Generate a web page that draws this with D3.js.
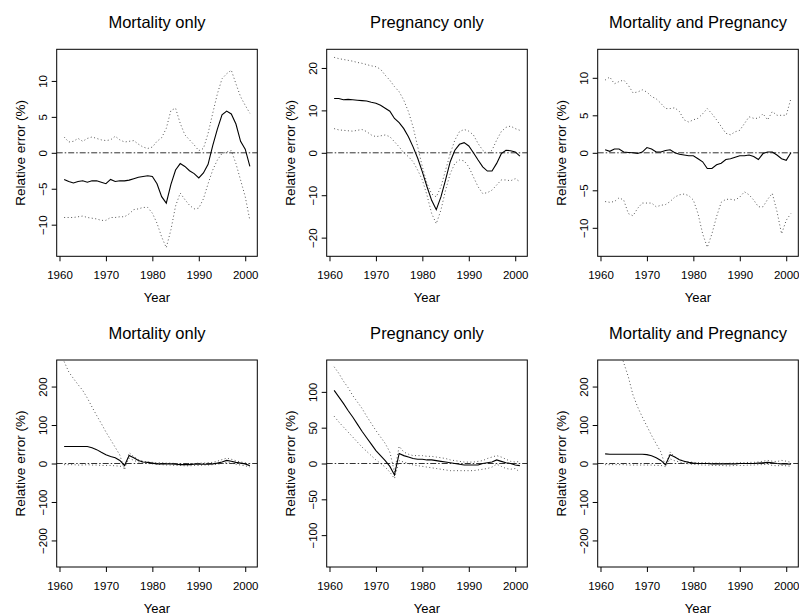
<!DOCTYPE html>
<html>
<head>
<meta charset="utf-8">
<script src="https://cdn.jsdelivr.net/npm/d3@7/dist/d3.min.js"></script>
<style>
  body { margin: 0; background: #fff; }
  text { font-family: "Liberation Sans", Arial, Helvetica, sans-serif; fill: #000; }
</style>
</head>
<body>
<svg id="chart" width="799" height="615"></svg>
<script>
// Relative error (%) of the estimates, 1961–2001, with lower/upper bounds
const years = d3.range(1961, 2002);
const xTicks = [1960, 1970, 1980, 1990, 2000];

const titles = ["Mortality only", "Pregnancy only", "Mortality and Pregnancy",
                "Mortality only", "Pregnancy only", "Mortality and Pregnancy"];
const yTicksA = [-10, -5, 0, 5, 10];
const yTicksB = [-20, -10, 0, 10, 20];
const yTicksC = [-200, -100, 0, 100, 200];
const yTicksD = [-100, -50, 0, 50, 100];
const yLimits = [14.4, 24.4, 13.8, 269, 144.5, 269];

// Top row
const mortTopMid = [-3.7,-4.0,-4.2,-4.0,-3.9,-4.1,-3.9,-3.9,-4.1,-4.3, -3.7,-4.0,-3.9,-3.9,-3.8,-3.6,-3.4,-3.3,-3.2,-3.3,
  -4.3,-6.1,-7.0,-4.4,-2.4,-1.5,-1.9,-2.5,-2.9,-3.5, -2.8,-1.6,1.0,3.3,5.3,5.8,5.4,4.0,1.6,0.5, -1.9];
const mortTopHi = [2.2,1.5,1.6,2.0,1.6,2.0,2.2,2.0,1.8,1.7, 1.8,2.3,1.8,1.5,1.6,1.7,1.2,0.8,0.6,0.8,
  1.6,2.1,3.4,5.9,6.2,4.1,2.5,1.8,1.1,0.3, 0.6,2.7,5.5,8.2,10.3,11.0,11.5,9.6,7.8,6.6, 5.5];
const mortTopLo = [-9.0,-9.0,-9.0,-8.9,-8.8,-9.0,-9.1,-9.2,-9.4,-9.4, -9.0,-9.0,-8.9,-8.9,-8.5,-7.9,-7.8,-7.6,-7.6,-8.4,
  -9.8,-11.7,-13.2,-10.7,-7.4,-5.6,-6.5,-7.3,-7.8,-7.7, -6.4,-4.3,-2.4,-1.0,-0.1,0.1,0.3,-1.5,-3.8,-6.1, -9.4];

const pregTopMid = [12.8,12.8,12.5,12.6,12.5,12.4,12.3,12.2,11.9,11.7, 11.2,10.5,9.8,8.1,7.1,5.7,3.8,1.4,-1.3,-4.5,
  -8.0,-11.2,-13.4,-10.4,-6.4,-2.1,0.6,2.0,2.4,1.6, 0.0,-1.7,-3.3,-4.3,-4.3,-2.5,-0.2,0.6,0.5,0.2, -0.8];
const pregTopHi = [22.5,22.2,22.0,21.8,21.6,21.3,21.1,20.8,20.5,20.3, 19.7,18.3,17.1,15.6,14.4,12.4,9.7,6.1,1.4,-3.3,
  -7.2,-9.7,-10.4,-8.0,-4.1,-0.2,3.0,5.0,5.5,5.1, 4.2,2.2,0.6,-0.2,0.6,3.0,5.0,6.0,6.3,5.7, 5.3];
const pregTopLo = [5.7,5.4,5.3,5.2,5.1,5.3,5.5,5.0,4.2,3.8, 4.0,4.2,3.8,2.6,1.4,0.0,-0.9,-2.1,-4.1,-6.4,
  -10.0,-14.3,-16.7,-13.5,-8.8,-4.9,-2.5,-1.7,-1.9,-3.3, -5.7,-8.0,-9.6,-9.4,-8.8,-7.6,-6.4,-6.4,-6.6,-6.1, -6.8];

const bothTopMid = [0.4,0.2,0.5,0.5,0.1,0.05,0.0,-0.1,0.1,0.7, 0.5,0.1,0.1,0.3,0.4,0.0,-0.2,-0.3,-0.4,-0.4,
  -0.8,-1.2,-2.1,-2.1,-1.6,-1.4,-0.9,-0.8,-0.6,-0.4, -0.4,-0.3,-0.5,-0.9,-0.1,0.1,0.1,-0.3,-0.8,-1.0, 0.0];
const bothTopHi = [9.7,10.1,9.2,9.5,9.7,9.0,8.0,8.1,8.4,8.1, 7.5,7.2,6.6,5.9,5.9,6.0,5.5,4.4,4.1,4.4,
  4.6,5.2,5.9,5.2,4.4,3.5,2.6,2.4,2.8,3.0, 3.9,4.8,4.6,4.6,5.2,4.4,5.5,5.0,5.0,5.0, 7.2];
const bothTopLo = [-6.5,-6.6,-6.5,-6.0,-6.3,-8.1,-8.4,-7.4,-6.7,-6.7, -6.7,-7.2,-7.0,-6.9,-6.5,-5.9,-5.6,-5.5,-5.7,-6.3,
  -8.1,-10.8,-12.6,-10.8,-8.5,-6.6,-6.2,-6.2,-6.3,-5.9, -5.2,-5.6,-6.3,-7.2,-7.2,-6.2,-5.4,-7.8,-10.8,-9.0, -8.1];

// Bottom row
const mortBotMid = [44,44,44,44,44,44,41,36,29,23, 18,15,8,-5,21,15,8,4,3,1,
  -1,-1,-1,-1,-2,-3,-3,-3,-2,-2, -2,-2,-1,1,4,8,6,3,1,-1, -6];
const mortBotHi = [265,238,221,205,190,170,147,125,104,82, 62,42,22,-17,28,18,10,6,4,3,
  2,2,1,1,0,-1,-1,0,0,1, 1,2,3,6,10,14,11,7,4,2, -2];
const mortBotLo = [-3,-3,-3,-4,-4,-3,-4,-4,-5,-5, -5,-6,-7,-9,14,8,4,1,0,-1,
  -2,-3,-4,-4,-5,-5,-6,-6,-5,-5, -4,-4,-3,-2,0,3,1,-2,-4,-6, -9];

const pregBotMid = [102,93,84,74,65,55,45,36,27,18, 11,4,-4,-16,14,11,9,7,6,6,
  5,5,4,3,2,1,0,-1,-2,-2, -2,-2,0,1,2,5,3,1,0,-2, -3];
const pregBotHi = [135,126,115,106,95,86,77,66,56,46, 37,28,16,-12,24,16,13,11,11,11,
  10,10,9,8,7,5,4,3,2,2, 2,3,4,7,9,11,9,6,3,2, 3];
const pregBotLo = [66,58,51,44,37,30,23,17,11,5, 0,-5,-12,-21,4,2,0,-2,-3,-4,
  -5,-6,-7,-8,-9,-10,-10,-10,-10,-10, -10,-9,-8,-7,-5,-1,-4,-7,-8,-7, -12];

const bothBotMid = [25,24,24,24,24,24,24,24,24,23, 20,15,8,-3,23,17,10,6,3,1,
  0,0,0,-1,-1,-1,-1,-1,-1,0, 0,0,0,1,2,3,2,0,-1,-1, -2];
const bothBotHi = [405,370,335,300,262,225,178,147,121,97, 73,51,30,-8,30,17,10,6,4,3,
  2,2,2,1,1,1,0,1,1,2, 2,3,3,4,6,8,6,5,8,6, 3];
const bothBotLo = [-3,-3,-3,-3,-3,-4,-4,-4,-4,-4, -4,-5,-5,-8,12,7,4,1,-1,-2,
  -3,-4,-4,-5,-5,-5,-6,-6,-5,-5, -5,-4,-4,-3,-3,-2,-5,-6,-5,-6, -7];

const panels = [
  { mid: mortTopMid, hi: mortTopHi, lo: mortTopLo, ticks: yTicksA },
  { mid: pregTopMid, hi: pregTopHi, lo: pregTopLo, ticks: yTicksB },
  { mid: bothTopMid, hi: bothTopHi, lo: bothTopLo, ticks: yTicksA },
  { mid: mortBotMid, hi: mortBotHi, lo: mortBotLo, ticks: yTicksC },
  { mid: pregBotMid, hi: pregBotHi, lo: pregBotLo, ticks: yTicksD },
  { mid: bothBotMid, hi: bothBotHi, lo: bothBotLo, ticks: yTicksC }
];

// Layout of the 2 x 3 grid
const colLeft = [56.7, 326.7, 597.7];
const rowTop = [49.3, 360];
const boxW = 200.6, boxH = 207;

const svg = d3.select("#chart");
const defs = svg.append("defs");

panels.forEach((p, i) => {
  const col = i % 3, row = Math.floor(i / 3);
  const left = colLeft[col], top = rowTop[row];

  const x = d3.scaleLinear().domain([1959.4, 2002.6]).range([0, boxW]);
  const y = d3.scaleLinear().domain([-yLimits[i], yLimits[i]]).range([boxH, 0]);

  const g = svg.append("g").attr("transform", `translate(${left},${top})`);

  defs.append("clipPath").attr("id", "clip" + i)
    .append("rect").attr("width", boxW).attr("height", boxH);

  const plot = g.append("g").attr("clip-path", `url(#clip${i})`);

  // reference line at zero
  plot.append("line")
    .attr("x1", 0).attr("x2", boxW)
    .attr("y1", y(0)).attr("y2", y(0))
    .attr("stroke", "#333").attr("stroke-width", 1)
    .attr("stroke-dasharray", "6,2,1.5,2");

  const line = d3.line().x((d, k) => x(years[k])).y(d => y(d));

  [p.hi, p.lo].forEach(series => {
    plot.append("path").datum(series)
      .attr("d", line)
      .attr("fill", "none")
      .attr("stroke", "#555")
      .attr("stroke-width", 1)
      .attr("stroke-dasharray", "1,2.5");
  });

  plot.append("path").datum(p.mid)
    .attr("d", line)
    .attr("fill", "none")
    .attr("stroke", "#000")
    .attr("stroke-width", 1.1);

  // x axis
  const xa = g.append("g").attr("transform", `translate(0,${boxH})`)
    .call(d3.axisBottom(x).tickValues(xTicks).tickFormat(d3.format("d")).tickSize(5));
  xa.select(".domain").remove();
  xa.selectAll("line").attr("stroke", "#000");
  xa.selectAll("text").attr("y", 23).attr("dy", 0)
    .style("font-size", "11.5px").attr("fill", "#000");

  // y axis with labels parallel to the axis
  const ya = g.append("g").call(d3.axisLeft(y).tickValues(p.ticks).tickSize(5));
  ya.select(".domain").remove();
  ya.selectAll("line").attr("stroke", "#000");
  ya.selectAll("text")
    .attr("transform", "rotate(-90)")
    .attr("x", 0).attr("y", -10).attr("dy", 0)
    .attr("text-anchor", "middle")
    .style("font-size", "11.5px").attr("fill", "#000");

  // frame
  g.append("rect").attr("width", boxW).attr("height", boxH)
    .attr("fill", "none").attr("stroke", "#000").attr("stroke-width", 1);

  // titles and axis labels
  g.append("text").attr("x", boxW / 2).attr("y", -21)
    .attr("text-anchor", "middle").style("font-size", "16.5px")
    .text(titles[i]);

  g.append("text").attr("x", boxW / 2).attr("y", boxH + 45.5)
    .attr("text-anchor", "middle").style("font-size", "13px")
    .text("Year");

  g.append("text")
    .attr("transform", `translate(-32,${boxH / 2}) rotate(-90)`)
    .attr("text-anchor", "middle").style("font-size", "13.5px")
    .text("Relative error (%)");
});
</script>
</body>
</html>
